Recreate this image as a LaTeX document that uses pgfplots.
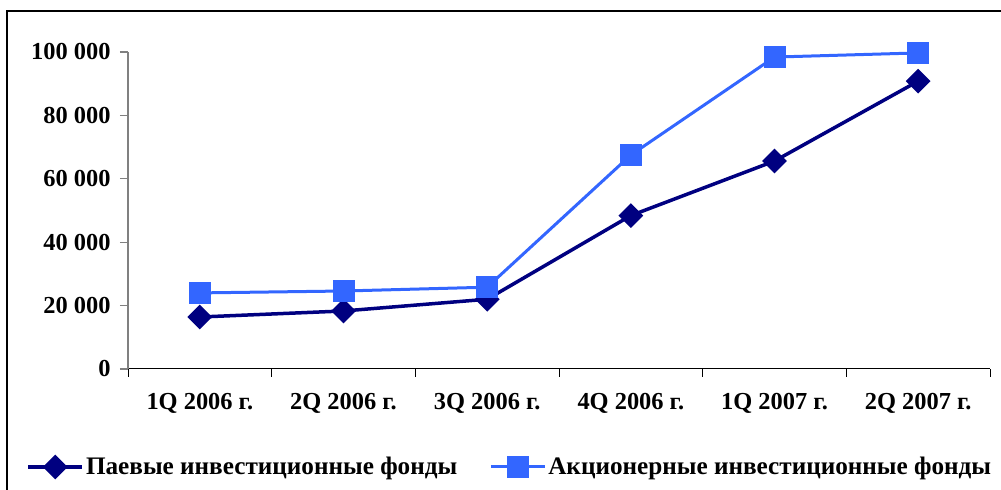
\documentclass[border=0pt]{standalone}
\usepackage{fontspec}
\setmainfont{Liberation Serif}
\usepackage{pgfplots}
\pgfplotsset{compat=1.18}
\definecolor{pif}{HTML}{000080}
\definecolor{aif}{HTML}{3366FF}
\newcommand{\lbl}{\fontsize{24.5}{29}\selectfont\bfseries}
\newcommand{\leg}{\fontsize{25.3}{30}\selectfont\bfseries}
\begin{document}
\begin{tikzpicture}[x=1bp,y=1bp]
\useasboundingbox (0,0) rectangle (1001,490);
\draw[line width=1.5bp] (7,0) -- (7,479) -- (1001,479);
\begin{axis}[
  at={(128bp,121bp)}, anchor=south west,
  scale only axis, width=862bp, height=317bp,
  xmin=-0.5, xmax=5.5, ymin=0, ymax=100000,
  scaled y ticks=false,
  axis x line*=bottom, axis y line*=left,
  x axis line style={black, line width=1bp, -},
  y axis line style={gray, line width=1.2bp, -},
  tick align=outside,
  xtick={0,...,5},
  xticklabels={1Q 2006 г., 2Q 2006 г., 3Q 2006 г., 4Q 2006 г., 1Q 2007 г., 2Q 2007 г.},
  major x tick style={draw=none},
  minor xtick={-0.5,0.5,...,5.5},
  minor tick length=8bp,
  minor x tick style={black, line width=1bp},
  ytick={0,20000,...,100000},
  yticklabels={0, 20 000, 40 000, 60 000, 80 000, 100 000},
  major tick length=8bp,
  y tick style={gray, line width=1.2bp},
  tick label style={font=\lbl},
  xticklabel style={yshift=-13bp},
  yticklabel style={xshift=-6bp},
  legend columns=2,
  legend style={draw=none, fill=none, at={(axis description cs:0.443,-0.309)}, anchor=center,
    font=\leg, /tikz/every even column/.append style={column sep=30bp}},
  legend image code/.code={\draw[mark repeat=2,mark phase=2] plot coordinates {(0bp,0bp) (27bp,0bp) (54bp,0bp)};},
]
\addplot[pif, line width=3.5bp, mark=square*, mark size=7bp, mark options={rotate=45, solid}]
  coordinates {(0,16400) (1,18300) (2,22000) (3,48400) (4,65600) (5,90800)};
\addlegendentry{Паевые инвестиционные фонды}
\addplot[aif, line width=3bp, mark=square*, mark size=9.5bp, mark options={solid}]
  coordinates {(0,24000) (1,24600) (2,25800) (3,67500) (4,98400) (5,99700)};
\addlegendentry{Акционерные инвестиционные фонды}
\end{axis}
\end{tikzpicture}
\end{document}
